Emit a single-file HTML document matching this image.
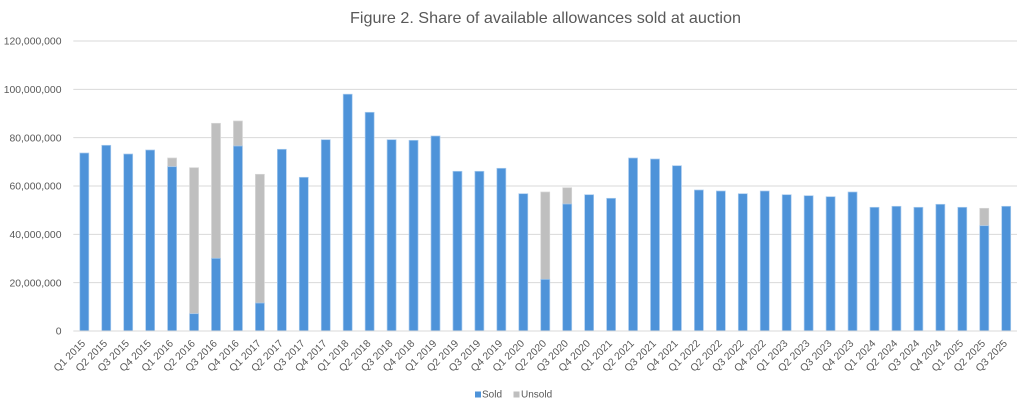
<!DOCTYPE html>
<html>
<head>
<meta charset="utf-8">
<style>
  html,body{margin:0;padding:0;background:#fff;}
  svg{display:block;}
  text{font-family:"Liberation Sans",sans-serif;fill:#595959;}
</style>
</head>
<body>
<svg width="1022" height="408" viewBox="0 0 1022 408" xmlns="http://www.w3.org/2000/svg">
  <rect x="0" y="0" width="1022" height="408" fill="#fff"/>
  <text x="545.5" y="23" font-size="16" text-anchor="middle" textLength="391" lengthAdjust="spacingAndGlyphs">Figure 2. Share of available allowances sold at auction</text>

  <!-- gridlines -->
  <g stroke="#D9D9D9" stroke-width="1">
    <line x1="73.3" y1="41" x2="1017" y2="41"/>
    <line x1="73.3" y1="89.33" x2="1017" y2="89.33"/>
    <line x1="73.3" y1="137.67" x2="1017" y2="137.67"/>
    <line x1="73.3" y1="186" x2="1017" y2="186"/>
    <line x1="73.3" y1="234.33" x2="1017" y2="234.33"/>
    <line x1="73.3" y1="282.67" x2="1017" y2="282.67"/>
  </g>

  <!-- y labels -->
  <g font-size="10.4" text-anchor="end">
    <text x="61.5" y="44.6">120,000,000</text>
    <text x="61.5" y="92.9">100,000,000</text>
    <text x="61.5" y="141.3">80,000,000</text>
    <text x="61.5" y="189.6">60,000,000</text>
    <text x="61.5" y="237.9">40,000,000</text>
    <text x="61.5" y="286.3">20,000,000</text>
    <text x="61.5" y="334.6">0</text>
  </g>

  <!-- unsold (gray, total height) -->
  <g fill="#BFBFBF" stroke="#D6D6D6" stroke-width="0.7">
    <rect x="167.6" y="158" width="9" height="173"/>
    <rect x="189.55" y="167.7" width="9" height="163.3"/>
    <rect x="211.5" y="123.3" width="9" height="207.7"/>
    <rect x="233.45" y="121" width="9" height="210"/>
    <rect x="255.4" y="174.3" width="9" height="156.7"/>
    <rect x="540.75" y="192" width="9" height="139"/>
    <rect x="562.7" y="187.7" width="9" height="143.3"/>
    <rect x="979.75" y="208.3" width="9" height="122.7"/>
  </g>

  <!-- sold (blue) -->
  <g fill="#4E93D9" stroke="#A9CBEE" stroke-width="0.7">
    <rect x="79.8" y="153" width="9" height="178"/>
    <rect x="101.75" y="145.3" width="9" height="185.7"/>
    <rect x="123.7" y="154" width="9" height="177"/>
    <rect x="145.65" y="150" width="9" height="181"/>
    <rect x="167.6" y="166.7" width="9" height="164.3"/>
    <rect x="189.55" y="313.7" width="9" height="17.3"/>
    <rect x="211.5" y="258.3" width="9" height="72.7"/>
    <rect x="233.45" y="146" width="9" height="185"/>
    <rect x="255.4" y="303" width="9" height="28"/>
    <rect x="277.35" y="149.3" width="9" height="181.7"/>
    <rect x="299.3" y="177.3" width="9" height="153.7"/>
    <rect x="321.25" y="139.7" width="9" height="191.3"/>
    <rect x="343.2" y="94.2" width="9" height="236.8"/>
    <rect x="365.15" y="112.3" width="9" height="218.7"/>
    <rect x="387.1" y="139.7" width="9" height="191.3"/>
    <rect x="409.05" y="140.3" width="9" height="190.7"/>
    <rect x="431" y="136" width="9" height="195"/>
    <rect x="452.95" y="171.3" width="9" height="159.7"/>
    <rect x="474.9" y="171.3" width="9" height="159.7"/>
    <rect x="496.85" y="168.3" width="9" height="162.7"/>
    <rect x="518.8" y="193.7" width="9" height="137.3"/>
    <rect x="540.75" y="279.3" width="9" height="51.7"/>
    <rect x="562.7" y="204" width="9" height="127"/>
    <rect x="584.65" y="194.7" width="9" height="136.3"/>
    <rect x="606.6" y="198.3" width="9" height="132.7"/>
    <rect x="628.55" y="158" width="9" height="173"/>
    <rect x="650.5" y="159" width="9" height="172"/>
    <rect x="672.45" y="165.7" width="9" height="165.3"/>
    <rect x="694.4" y="190" width="9" height="141"/>
    <rect x="716.35" y="191" width="9" height="140"/>
    <rect x="738.3" y="193.7" width="9" height="137.3"/>
    <rect x="760.25" y="191" width="9" height="140"/>
    <rect x="782.2" y="194.7" width="9" height="136.3"/>
    <rect x="804.15" y="195.7" width="9" height="135.3"/>
    <rect x="826.1" y="196.7" width="9" height="134.3"/>
    <rect x="848.05" y="192" width="9" height="139"/>
    <rect x="870" y="207.3" width="9" height="123.7"/>
    <rect x="891.95" y="206.3" width="9" height="124.7"/>
    <rect x="913.9" y="207.3" width="9" height="123.7"/>
    <rect x="935.85" y="204.3" width="9" height="126.7"/>
    <rect x="957.8" y="207.3" width="9" height="123.7"/>
    <rect x="979.75" y="225.7" width="9" height="105.3"/>
    <rect x="1001.7" y="206.3" width="9" height="124.7"/>
  </g>

  <!-- x axis -->
  <line x1="73.3" y1="331" x2="1017" y2="331" stroke="#D9D9D9" stroke-width="1"/>

  <!-- x labels -->
  <g font-size="10.4" text-anchor="end">
    <text transform="translate(86,344) rotate(-45)">Q1 2015</text>
    <text transform="translate(107.95,344) rotate(-45)">Q2 2015</text>
    <text transform="translate(129.9,344) rotate(-45)">Q3 2015</text>
    <text transform="translate(151.85,344) rotate(-45)">Q4 2015</text>
    <text transform="translate(173.8,344) rotate(-45)">Q1 2016</text>
    <text transform="translate(195.75,344) rotate(-45)">Q2 2016</text>
    <text transform="translate(217.7,344) rotate(-45)">Q3 2016</text>
    <text transform="translate(239.65,344) rotate(-45)">Q4 2016</text>
    <text transform="translate(261.6,344) rotate(-45)">Q1 2017</text>
    <text transform="translate(283.55,344) rotate(-45)">Q2 2017</text>
    <text transform="translate(305.5,344) rotate(-45)">Q3 2017</text>
    <text transform="translate(327.45,344) rotate(-45)">Q4 2017</text>
    <text transform="translate(349.4,344) rotate(-45)">Q1 2018</text>
    <text transform="translate(371.35,344) rotate(-45)">Q2 2018</text>
    <text transform="translate(393.3,344) rotate(-45)">Q3 2018</text>
    <text transform="translate(415.25,344) rotate(-45)">Q4 2018</text>
    <text transform="translate(437.2,344) rotate(-45)">Q1 2019</text>
    <text transform="translate(459.15,344) rotate(-45)">Q2 2019</text>
    <text transform="translate(481.1,344) rotate(-45)">Q3 2019</text>
    <text transform="translate(503.05,344) rotate(-45)">Q4 2019</text>
    <text transform="translate(525,344) rotate(-45)">Q1 2020</text>
    <text transform="translate(546.95,344) rotate(-45)">Q2 2020</text>
    <text transform="translate(568.9,344) rotate(-45)">Q3 2020</text>
    <text transform="translate(590.85,344) rotate(-45)">Q4 2020</text>
    <text transform="translate(612.8,344) rotate(-45)">Q1 2021</text>
    <text transform="translate(634.75,344) rotate(-45)">Q2 2021</text>
    <text transform="translate(656.7,344) rotate(-45)">Q3 2021</text>
    <text transform="translate(678.65,344) rotate(-45)">Q4 2021</text>
    <text transform="translate(700.6,344) rotate(-45)">Q1 2022</text>
    <text transform="translate(722.55,344) rotate(-45)">Q2 2022</text>
    <text transform="translate(744.5,344) rotate(-45)">Q3 2022</text>
    <text transform="translate(766.45,344) rotate(-45)">Q4 2022</text>
    <text transform="translate(788.4,344) rotate(-45)">Q1 2023</text>
    <text transform="translate(810.35,344) rotate(-45)">Q2 2023</text>
    <text transform="translate(832.3,344) rotate(-45)">Q3 2023</text>
    <text transform="translate(854.25,344) rotate(-45)">Q4 2023</text>
    <text transform="translate(876.2,344) rotate(-45)">Q1 2024</text>
    <text transform="translate(898.15,344) rotate(-45)">Q2 2024</text>
    <text transform="translate(920.1,344) rotate(-45)">Q3 2024</text>
    <text transform="translate(942.05,344) rotate(-45)">Q4 2024</text>
    <text transform="translate(964,344) rotate(-45)">Q1 2025</text>
    <text transform="translate(985.95,344) rotate(-45)">Q2 2025</text>
    <text transform="translate(1007.9,344) rotate(-45)">Q3 2025</text>
  </g>

  <!-- legend -->
  <rect x="475" y="391.5" width="6" height="6" fill="#4E93D9"/>
  <text x="482" y="397.5" font-size="10">Sold</text>
  <rect x="513.5" y="391.5" width="6" height="6" fill="#BFBFBF"/>
  <text x="521" y="397.5" font-size="10">Unsold</text>
</svg>
</body>
</html>
